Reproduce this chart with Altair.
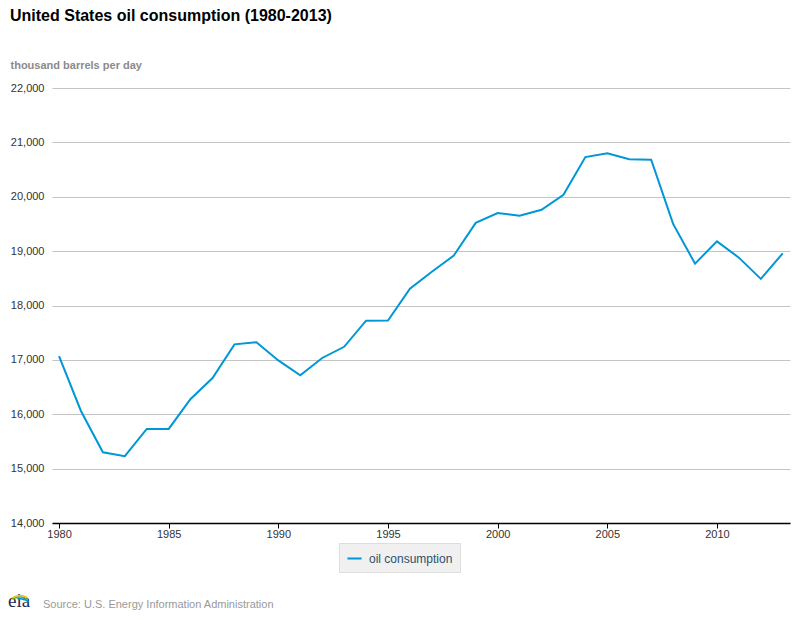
import altair as alt
import pandas as pd

years = list(range(1980, 2014))
consumption = [17070, 16060, 15300, 15230, 15730, 15730, 16280, 16665, 17285, 17325,
               16990, 16715, 17035, 17240, 17720, 17725, 18310, 18620, 18920, 19520,
               19700, 19650, 19760, 20035, 20730, 20800, 20690, 20680, 19500, 18770,
               19180, 18880, 18490, 18960]
series_name = "oil consumption"
x_ticks = [1980, 1985, 1990, 1995, 2000, 2005, 2010]
y_ticks = [14000, 15000, 16000, 17000, 18000, 19000, 20000, 21000, 22000]

df = pd.DataFrame({"year": years, "value": consumption, "series": series_name})

FONT = "Liberation Sans"
BLUE = "#0096d7"

line = alt.Chart(df).mark_line(strokeWidth=2, color=BLUE).encode(
    x=alt.X("year:Q",
            scale=alt.Scale(domain=[1979.68, 2013.33], nice=False, zero=False),
            axis=alt.Axis(values=x_ticks, format="d", title=None, domainColor="#000",
                          domainWidth=1.5, tickColor="#000", tickSize=5, labelPadding=0,
                          grid=False, labelFont=FONT, labelFontSize=11, labelColor="#333")),
    y=alt.Y("value:Q",
            scale=alt.Scale(domain=[14000, 22000], nice=False, zero=False),
            axis=alt.Axis(values=y_ticks, format=",.0f", title="thousand barrels per day",
                          titleAngle=0, titleX=-42, titleY=-20, titleAlign="left",
                          titleBaseline="alphabetic", titleFont=FONT, titleFontSize=11,
                          titleFontWeight="bold", titleColor="#8a8a8a",
                          domain=False, ticks=False, labelPadding=8, gridColor="#c4c4c4",
                          labelFont=FONT, labelFontSize=11, labelColor="#333")),
    color=alt.Color("series:N", scale=alt.Scale(range=[BLUE]),
                    legend=alt.Legend(title=None, orient="none", legendX=287, legendY=455,
                                      symbolType="stroke", symbolStrokeWidth=2, symbolSize=200,
                                      fillColor="#f0f0f0", strokeColor="#dddddd", padding=7,
                                      labelFont=FONT, labelFontSize=12, labelColor="#2f4f6f",
                                      labelOffset=6)),
)

one = pd.DataFrame({"a": [0]})

title = alt.Chart(one).mark_text(text="United States oil consumption (1980-2013)", font=FONT,
                                 fontSize=16, fontWeight="bold", align="left",
                                 baseline="alphabetic", color="#000").encode(
    x=alt.value(-42), y=alt.value(-67))

source = alt.Chart(one).mark_text(text="Source: U.S. Energy Information Administration",
                                  font=FONT, fontSize=11, align="left", baseline="alphabetic",
                                  color="#999").encode(x=alt.value(-9), y=alt.value(520))

eia = alt.Chart(one).mark_text(text="eia", font="Liberation Serif", fontSize=19,
                               align="left", baseline="alphabetic", color="#1c2a4a").encode(
    x=alt.value(-44), y=alt.value(519))

arc_y = alt.Chart(one).mark_arc(radius=17, radius2=15.5, theta=5.75, theta2=6.75, color="#f5c400").encode(
    x=alt.value(-32), y=alt.value(524))
arc_g = alt.Chart(one).mark_arc(radius=15.5, radius2=14, theta=5.75, theta2=6.85, color="#5fb346").encode(
    x=alt.value(-32), y=alt.value(524))
arc_b = alt.Chart(one).mark_arc(radius=14, radius2=12.5, theta=6.1, theta2=7.0, color="#0096d7").encode(
    x=alt.value(-32), y=alt.value(524))

chart = alt.layer(line, title, source, eia, arc_y, arc_g, arc_b).properties(
    width=738, height=435,
    autosize=alt.AutoSizeParams(type="none"),
    padding={"left": 44, "top": 80, "right": 2, "bottom": 89},
).configure_view(stroke=None)

chart.save("out.html", embed_options={"renderer": "svg", "actions": False})
